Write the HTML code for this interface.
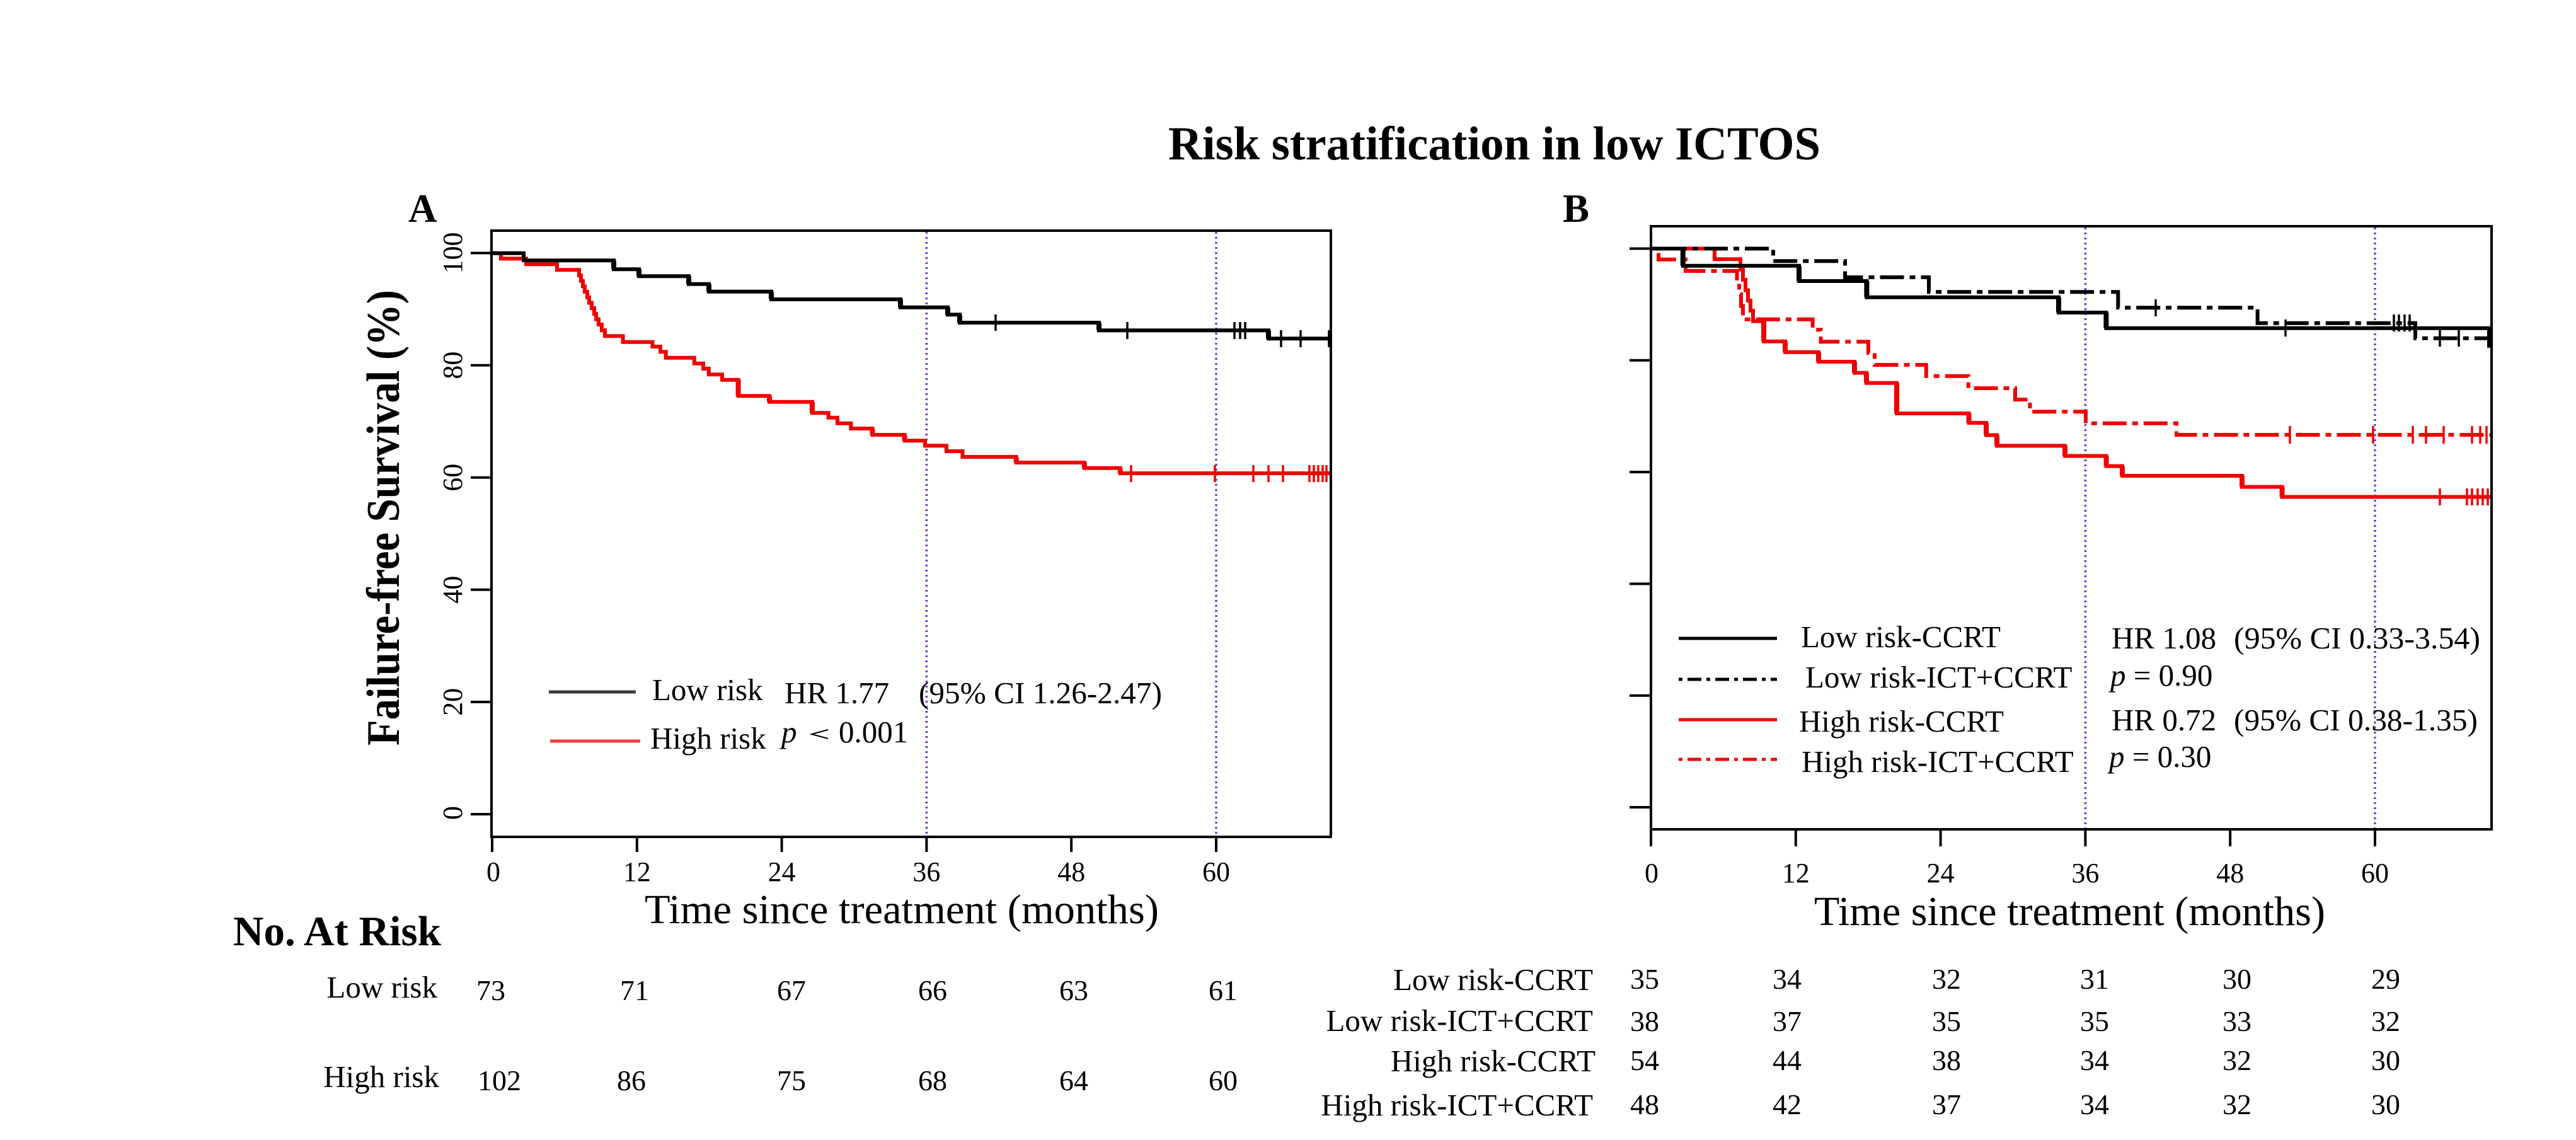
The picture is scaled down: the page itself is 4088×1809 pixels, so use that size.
<!DOCTYPE html>
<html>
<head>
<meta charset="utf-8">
<style>
  html, body { margin: 0; padding: 0; background: #ffffff; }
  svg { display: block; }
  text { font-family: "Liberation Serif", "Times New Roman", serif; fill: #000; }
</style>
</head>
<body>
<svg width="4088" height="1809" viewBox="0 0 4088 1809" xmlns="http://www.w3.org/2000/svg">
  <rect x="0" y="0" width="4088" height="1809" fill="#ffffff"/>

  <!-- Title -->
  <text x="1854" y="253" font-size="75" font-weight="bold" textLength="1035" lengthAdjust="spacingAndGlyphs">Risk stratification in low ICTOS</text>

  <!-- Panel labels -->
  <text x="648" y="352" font-size="63" font-weight="bold">A</text>
  <text x="2480" y="352" font-size="63" font-weight="bold">B</text>

  <!-- ================= PANEL A ================= -->
  <g stroke="#7438d4" stroke-width="3.5" stroke-dasharray="3 5" fill="none">
    <line x1="1470.4" y1="368" x2="1470.4" y2="1326"/>
    <line x1="1930" y1="368" x2="1930" y2="1326"/>
  </g>

  <!-- curves A -->
  <g fill="none" stroke-width="6" stroke-linejoin="miter" stroke-linecap="square">
    <path stroke="#f00000" d="M780,401.7 H795 V410.4 H835 V419.3 H884 V428.3 H919 V437 H922 V445.7 H925 V454.4 H928 V463 H932 V471.8 H935 V480.5 H939 V489 H943 V498 H946 V506.6 H950 V515 H955 V524 H960 V533.3 H988.6 V542.7 H1035.4 V550 H1048 V558.3 H1056.7 V567.7 H1101.8 V576.7 H1116 V585 H1124.8 V594.3 H1146 V602.7 H1171.6 V628.3 H1221 V637.7 H1289 V655.3 H1314.7 V662.7 H1329 V671.7 H1350.4 V680 H1384.5 V690 H1435.6 V699.3 H1468 V707.3 H1502 V716 H1527.5 V725 H1612.7 V734 H1720.8 V742.7 H1777.8 V751 H2110"/>
    <path stroke="#000000" d="M781,401.7 H831 V413.3 H974 V427.3 H1014 V438.3 H1093 V450.7 H1125 V462.7 H1224 V475 H1429 V487.7 H1504 V499.3 H1523 V512 H1744 V524.3 H2013 V537.3 H2109"/>
  </g>
  <!-- thicker verticals A -->
  <g fill="none" stroke-width="8">
    <path stroke="#f00000" d="M1171.6,602.7 V628.3 M1289,637.7 V655.3 M1221,628.3 V637.7 M1777.8,742.7 V751 M1720.8,734 V742.7 M1612.7,725 V734 M1435.6,690 V699.3 M1384.5,680 V690"/>
    <path stroke="#000000" d="M974,413.3 V427.3 M1014,427.3 V438.3 M1093,438.3 V450.7 M1125,450.7 V462.7 M1224,462.7 V475 M1429,475 V487.7 M1504,487.7 V499.3 M1523,499.3 V512 M1744,512 V524.3 M2013,524.3 V537.3"/>
  </g>
  <!-- censor ticks A -->
  <g stroke="#000000" stroke-width="3.5">
    <line x1="1580" y1="499" x2="1580" y2="525"/>
    <line x1="1789" y1="511" x2="1789" y2="538"/>
    <line x1="1959" y1="511" x2="1959" y2="538"/>
    <line x1="1968" y1="511" x2="1968" y2="538"/>
    <line x1="1976" y1="511" x2="1976" y2="538"/>
    <line x1="2033" y1="524" x2="2033" y2="551"/>
    <line x1="2064" y1="524" x2="2064" y2="551"/>
    <line x1="2109" y1="524" x2="2109" y2="551"/>
  </g>
  <g stroke="#f00000" stroke-width="3.5">
    <line x1="1795" y1="738" x2="1795" y2="765"/>
    <line x1="1928" y1="738" x2="1928" y2="765"/>
    <line x1="1989" y1="738" x2="1989" y2="765"/>
    <line x1="2013" y1="738" x2="2013" y2="765"/>
    <line x1="2036" y1="738" x2="2036" y2="765"/>
    <line x1="2078" y1="738" x2="2078" y2="765"/>
    <line x1="2085" y1="738" x2="2085" y2="765"/>
    <line x1="2092" y1="738" x2="2092" y2="765"/>
    <line x1="2099" y1="738" x2="2099" y2="765"/>
    <line x1="2105" y1="738" x2="2105" y2="765"/>
  </g>

  <!-- box A -->
  <rect x="780" y="366" width="1332" height="962" fill="none" stroke="#000" stroke-width="4"/>

  <!-- y ticks A -->
  <g stroke="#000" stroke-width="4">
    <line x1="747" y1="401.5" x2="780" y2="401.5"/>
    <line x1="747" y1="579.6" x2="780" y2="579.6"/>
    <line x1="747" y1="757.7" x2="780" y2="757.7"/>
    <line x1="747" y1="935.8" x2="780" y2="935.8"/>
    <line x1="747" y1="1113.9" x2="780" y2="1113.9"/>
    <line x1="747" y1="1292" x2="780" y2="1292"/>
  </g>
  <g font-size="44" text-anchor="middle">
    <text transform="translate(733,401.5) rotate(-90)">100</text>
    <text transform="translate(733,579.6) rotate(-90)">80</text>
    <text transform="translate(733,757.7) rotate(-90)">60</text>
    <text transform="translate(733,935.8) rotate(-90)">40</text>
    <text transform="translate(733,1113.9) rotate(-90)">20</text>
    <text transform="translate(733,1290) rotate(-90)">0</text>
  </g>

  <!-- x ticks A -->
  <g stroke="#000" stroke-width="4">
    <line x1="781" y1="1326" x2="781" y2="1352"/>
    <line x1="1010.8" y1="1326" x2="1010.8" y2="1352"/>
    <line x1="1240.6" y1="1326" x2="1240.6" y2="1352"/>
    <line x1="1470.4" y1="1326" x2="1470.4" y2="1352"/>
    <line x1="1700.2" y1="1326" x2="1700.2" y2="1352"/>
    <line x1="1930" y1="1326" x2="1930" y2="1352"/>
  </g>
  <g font-size="44" text-anchor="middle">
    <text x="783" y="1398">0</text>
    <text x="1010.8" y="1398">12</text>
    <text x="1240.6" y="1398">24</text>
    <text x="1470.4" y="1398">36</text>
    <text x="1700.2" y="1398">48</text>
    <text x="1930" y="1398">60</text>
  </g>

  <!-- axis labels A -->
  <text x="1023" y="1465" font-size="66" textLength="816" lengthAdjust="spacingAndGlyphs">Time since treatment (months)</text>
  <text transform="translate(633,821.5) rotate(-90)" font-size="74" font-weight="bold" text-anchor="middle" textLength="723" lengthAdjust="spacingAndGlyphs">Failure-free Survival (%)</text>

  <!-- legend A -->
  <line x1="871" y1="1098" x2="1009" y2="1098" stroke="#3a3a3a" stroke-width="5"/>
  <line x1="873" y1="1176" x2="1016" y2="1176" stroke="#f03c3c" stroke-width="5"/>
  <g font-size="49">
    <text x="1035" y="1111">Low risk</text>
    <text x="1245" y="1116">HR 1.77</text>
    <text x="1458" y="1116" textLength="386" lengthAdjust="spacingAndGlyphs">(95% CI 1.26-2.47)</text>
    <text x="1032" y="1188">High risk</text>
    <text x="1240" y="1178" font-style="italic">p</text>
    <text x="1331" y="1178">0.001</text>
  </g>
  <polyline points="1314,1158 1288,1165 1314,1172" fill="none" stroke="#000" stroke-width="2"/>

  <!-- risk table A -->
  <text x="370" y="1500" font-size="67" font-weight="bold" textLength="330" lengthAdjust="spacingAndGlyphs">No. At Risk</text>
  <g font-size="49" text-anchor="end">
    <text x="694" y="1583">Low risk</text>
    <text x="697" y="1725">High risk</text>
  </g>
  <g font-size="46">
    <text x="756" y="1587">73</text>
    <text x="984" y="1587">71</text>
    <text x="1233" y="1587">67</text>
    <text x="1457" y="1587">66</text>
    <text x="1681" y="1587">63</text>
    <text x="1918" y="1587">61</text>
    <text x="758" y="1730">102</text>
    <text x="979" y="1730">86</text>
    <text x="1233" y="1730">75</text>
    <text x="1457" y="1730">68</text>
    <text x="1681" y="1730">64</text>
    <text x="1918" y="1730">60</text>
  </g>

  <!-- ================= PANEL B ================= -->
  <g stroke="#7438d4" stroke-width="3.5" stroke-dasharray="3 5" fill="none">
    <line x1="3309.4" y1="361" x2="3309.4" y2="1314"/>
    <line x1="3769" y1="361" x2="3769" y2="1314"/>
  </g>

  <g fill="none" stroke-width="6" stroke-linejoin="miter">
    <path stroke="#f00000" d="M2621,394.5 H2721 V411.3 H2762 V427.7 H2766 V444 H2770 V460.5 H2774 V477 H2778 V493 H2782 V509.6 H2799 V541.7 H2833 V558.7 H2886 V574 H2943 V591.6 H2962 V607.8 H3010 V656 H3124.5 V671 H3152 V690.5 H3169 V707.4 H3277 V723.5 H3342.6 V739.6 H3368 V755 H3558 V772.6 H3621.6 V788.5 H3952"/>
    <path stroke="#f00000" stroke-dasharray="9 9 38 9" d="M2621,394.5 H2632 V411.7 H2675 V430 H2756.5 V448.5 H2760 V467 H2763 V485.5 H2766 V506.7 H2876.6 V523.3 H2889.5 V542.3 H2965 V560 H2975 V579 H3056.8 V596.7 H3123.7 V616 H3198 V634 H3221.5 V653.3 H3310 V671.7 H3454 V690 H3952"/>
    <path stroke="#000000" stroke-dasharray="9 9 38 9" d="M2621,394.5 H2814 V414.3 H2928 V440 H3061 V463.3 H3361.3 V488.3 H3582.6 V512.7 H3833 V536.7 H3952"/>
    <path stroke="#000000" d="M2621,394.5 H2670.8 V421.7 H2855 V446 H2962.4 V471.7 H3267 V496 H3342.4 V520.7 H3950 V551.7"/>
  </g>
  <!-- thicker verticals B (solid series) -->
  <g fill="none" stroke-width="8">
    <path stroke="#f00000" d="M2799,509.6 V541.7 M2833,541.7 V558.7 M2886,558.7 V574 M2943,574 V591.6 M2962,591.6 V607.8 M3010,607.8 V656 M3124.5,656 V671 M3152,671 V690.5 M3169,690.5 V707.4 M3277,707.4 V723.5 M3342.6,723.5 V739.6 M3368,739.6 V755 M3558,755 V772.6 M3621.6,772.6 V788.5"/>
    <path stroke="#000000" d="M2670.8,394.5 V421.7 M2855,421.7 V446 M2962.4,446 V471.7 M3267,471.7 V496 M3342.4,496 V520.7"/>
  </g>
  <g stroke="#000000" stroke-width="3.5">
    <line x1="3421" y1="475" x2="3421" y2="502"/>
    <line x1="3627" y1="507" x2="3627" y2="534"/>
    <line x1="3799" y1="499" x2="3799" y2="526"/>
    <line x1="3807" y1="499" x2="3807" y2="526"/>
    <line x1="3816" y1="499" x2="3816" y2="526"/>
    <line x1="3824" y1="499" x2="3824" y2="526"/>
    <line x1="3872" y1="523" x2="3872" y2="550"/>
    <line x1="3902" y1="523" x2="3902" y2="550"/>
  </g>
  <g stroke="#f00000" stroke-width="3.5">
    <line x1="3872" y1="775" x2="3872" y2="802"/>
    <line x1="3915" y1="775" x2="3915" y2="802"/>
    <line x1="3923" y1="775" x2="3923" y2="802"/>
    <line x1="3932" y1="775" x2="3932" y2="802"/>
    <line x1="3940" y1="775" x2="3940" y2="802"/>
    <line x1="3948" y1="775" x2="3948" y2="802"/>
    <line x1="3634" y1="676" x2="3634" y2="704"/>
    <line x1="3766" y1="676" x2="3766" y2="704"/>
    <line x1="3829" y1="676" x2="3829" y2="704"/>
    <line x1="3850" y1="676" x2="3850" y2="704"/>
    <line x1="3878" y1="676" x2="3878" y2="704"/>
    <line x1="3923" y1="676" x2="3923" y2="704"/>
    <line x1="3936" y1="676" x2="3936" y2="704"/>
    <line x1="3946" y1="676" x2="3946" y2="704"/>
  </g>

  <rect x="2620" y="359" width="1334" height="957" fill="none" stroke="#000" stroke-width="4"/>

  <g stroke="#000" stroke-width="4">
    <line x1="2586" y1="394.5" x2="2620" y2="394.5"/>
    <line x1="2586" y1="571.8" x2="2620" y2="571.8"/>
    <line x1="2586" y1="749.1" x2="2620" y2="749.1"/>
    <line x1="2586" y1="926.4" x2="2620" y2="926.4"/>
    <line x1="2586" y1="1103.7" x2="2620" y2="1103.7"/>
    <line x1="2586" y1="1281" x2="2620" y2="1281"/>
    <line x1="2620" y1="1314" x2="2620" y2="1343"/>
    <line x1="2849.8" y1="1314" x2="2849.8" y2="1343"/>
    <line x1="3079.6" y1="1314" x2="3079.6" y2="1343"/>
    <line x1="3309.4" y1="1314" x2="3309.4" y2="1343"/>
    <line x1="3539.2" y1="1314" x2="3539.2" y2="1343"/>
    <line x1="3769" y1="1314" x2="3769" y2="1343"/>
  </g>
  <g font-size="44" text-anchor="middle">
    <text x="2621" y="1400">0</text>
    <text x="2849.8" y="1400">12</text>
    <text x="3079.6" y="1400">24</text>
    <text x="3309.4" y="1400">36</text>
    <text x="3539.2" y="1400">48</text>
    <text x="3769" y="1400">60</text>
  </g>
  <text x="2879" y="1468" font-size="66" textLength="811" lengthAdjust="spacingAndGlyphs">Time since treatment (months)</text>

  <!-- legend B -->
  <line x1="2664" y1="1013" x2="2820" y2="1013" stroke="#000" stroke-width="5"/>
  <line x1="2664" y1="1078" x2="2820" y2="1078" stroke="#000" stroke-width="5" stroke-dasharray="6 8 22 8"/>
  <line x1="2664" y1="1142" x2="2820" y2="1142" stroke="#f00000" stroke-width="5"/>
  <line x1="2664" y1="1205" x2="2820" y2="1205" stroke="#f00000" stroke-width="5" stroke-dasharray="6 8 22 8"/>
  <g font-size="49">
    <text x="2858" y="1027">Low risk-CCRT</text>
    <text x="2865" y="1091">Low risk-ICT+CCRT</text>
    <text x="2855" y="1161">High risk-CCRT</text>
    <text x="2859" y="1225">High risk-ICT+CCRT</text>
    <text x="3351" y="1029">HR 1.08</text>
    <text x="3545" y="1029" textLength="391" lengthAdjust="spacingAndGlyphs">(95% CI 0.33-3.54)</text>
    <text x="3349" y="1088"><tspan font-style="italic">p</tspan> = 0.90</text>
    <text x="3351" y="1159">HR 0.72</text>
    <text x="3545" y="1159" textLength="387" lengthAdjust="spacingAndGlyphs">(95% CI 0.38-1.35)</text>
    <text x="3347" y="1217"><tspan font-style="italic">p</tspan> = 0.30</text>
  </g>

  <!-- risk table B -->
  <g font-size="49" text-anchor="end">
    <text x="2528" y="1571">Low risk-CCRT</text>
    <text x="2528" y="1636">Low risk-ICT+CCRT</text>
    <text x="2532" y="1700">High risk-CCRT</text>
    <text x="2528" y="1770">High risk-ICT+CCRT</text>
  </g>
  <g font-size="46">
    <text x="2587" y="1569">35</text>
    <text x="2813" y="1569">34</text>
    <text x="3066" y="1569">32</text>
    <text x="3301" y="1569">31</text>
    <text x="3527" y="1569">30</text>
    <text x="3763" y="1569">29</text>

    <text x="2587" y="1636">38</text>
    <text x="2813" y="1636">37</text>
    <text x="3066" y="1636">35</text>
    <text x="3301" y="1636">35</text>
    <text x="3527" y="1636">33</text>
    <text x="3763" y="1636">32</text>

    <text x="2587" y="1698">54</text>
    <text x="2813" y="1698">44</text>
    <text x="3066" y="1698">38</text>
    <text x="3301" y="1698">34</text>
    <text x="3527" y="1698">32</text>
    <text x="3763" y="1698">30</text>

    <text x="2587" y="1768">48</text>
    <text x="2813" y="1768">42</text>
    <text x="3066" y="1768">37</text>
    <text x="3301" y="1768">34</text>
    <text x="3527" y="1768">32</text>
    <text x="3763" y="1768">30</text>
  </g>
</svg>
</body>
</html>
